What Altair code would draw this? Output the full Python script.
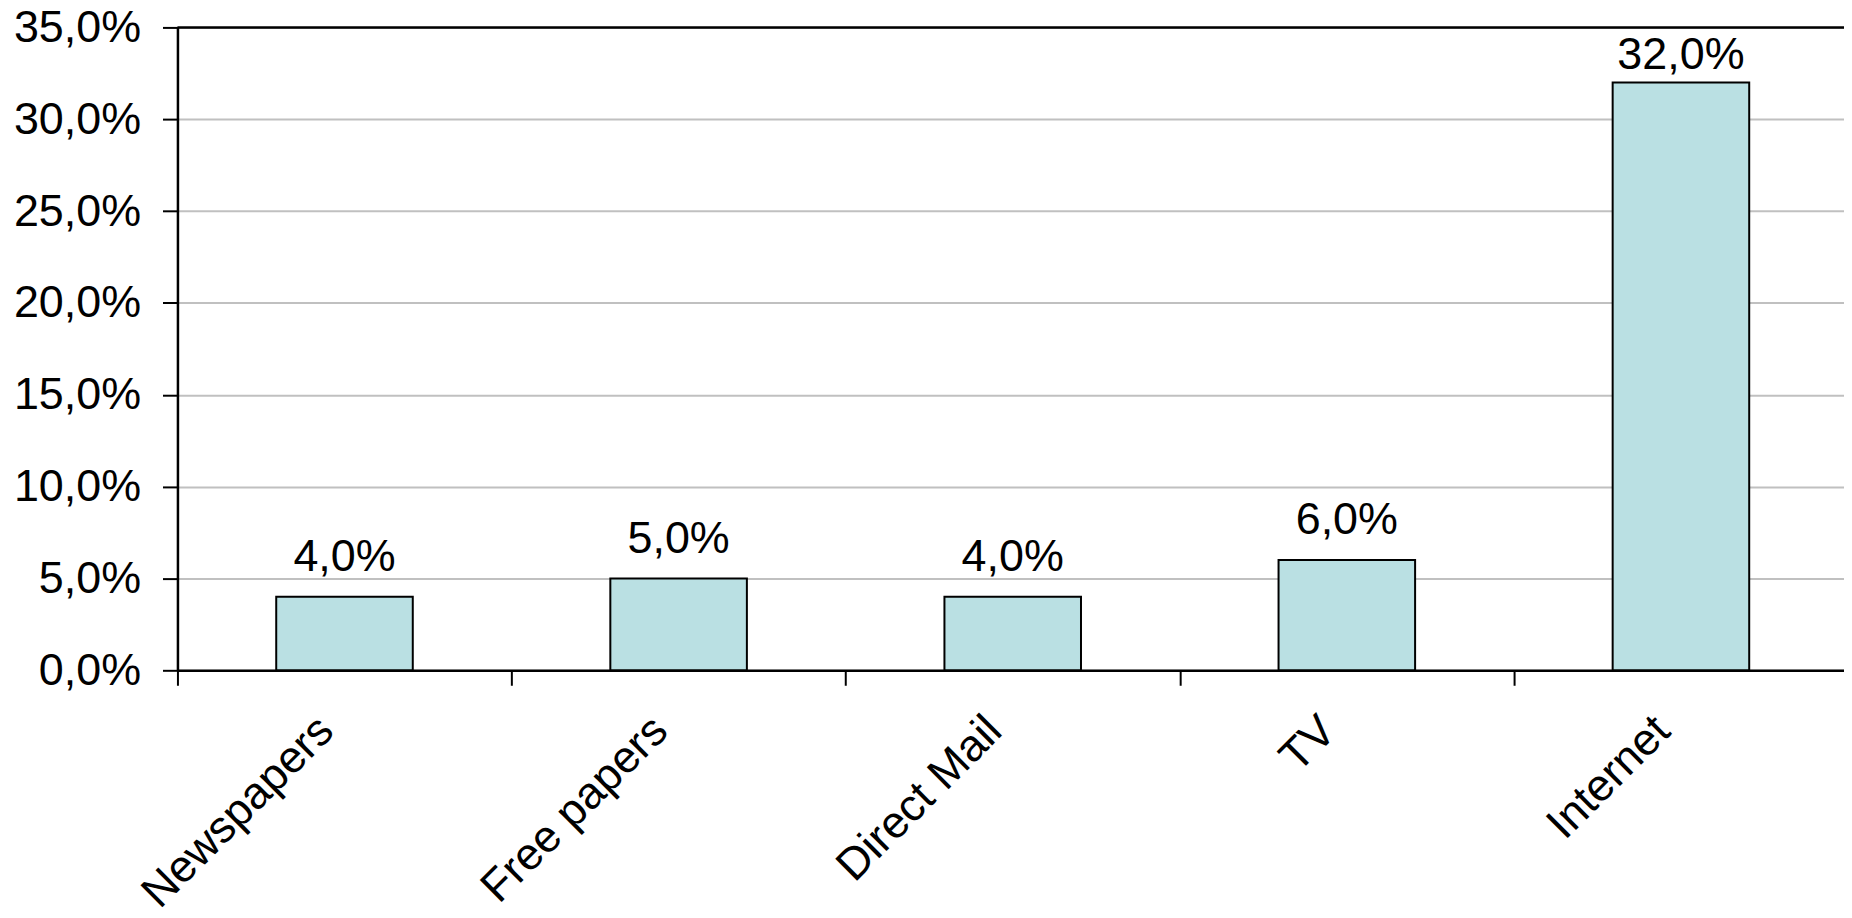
import altair as alt
import pandas as pd

categories = ["Newspapers", "Free papers", "Direct Mail", "TV", "Internet"]
values = [0.04, 0.05, 0.04, 0.06, 0.32]
y_ticks = [0, 0.05, 0.10, 0.15, 0.20, 0.25, 0.30, 0.35]

df = pd.DataFrame({"cat": categories, "val": values})

FONT = "Liberation Sans"
FS = 45

x_scale = alt.Scale(paddingInner=0, paddingOuter=0, range=[0, 1676])
x_enc = alt.X("cat:N", sort=categories, title=None, scale=x_scale,
              axis=alt.Axis(labelAngle=-45, labelAlign="right", labelBaseline="middle",
                            labelFont=FONT, labelFontSize=FS, labelColor="black",
                            labelPadding=38, labelOffset=-19, labelLimit=0,
                            tickBand="extent", tickSize=15,
                            tickColor="black", tickWidth=2, domainColor="black",
                            domainWidth=2.5, grid=False))
y_scale = alt.Scale(domain=[0, 0.35], nice=False)

bars = alt.Chart(df).mark_bar(size=137, color="#BAE0E3", stroke="black",
                              strokeWidth=2).encode(
    x=x_enc,
    y=alt.Y("val:Q", scale=y_scale, title=None,
            axis=alt.Axis(values=y_ticks,
                          labelExpr="replace(format(datum.value, '.1%'), '.', ',')",
                          labelFont=FONT, labelFontSize=FS, labelColor="black",
                          labelPadding=22, tickSize=15, tickColor="black", tickWidth=2,
                          domainColor="black", domainWidth=2.5,
                          grid=True, gridColor="#C0C0C0", gridWidth=2))
)

labels = alt.Chart(df).transform_calculate(
    lab="replace(format(datum.val, '.1%'), '.', ',')",
    pos="min(datum.val + 0.0141, 0.3272)"
).mark_text(font=FONT, fontSize=FS, color="black", baseline="alphabetic").encode(
    x=alt.X("cat:N", sort=categories, scale=x_scale),
    y=alt.Y("pos:Q", scale=y_scale),
    text="lab:N"
)

top = alt.Chart(pd.DataFrame({"y": [0.35]})).mark_rule(color="black", strokeWidth=2.5).encode(
    y=alt.Y("y:Q", scale=y_scale)
)

chart = (bars + labels + top).properties(
    width=1672, height=645,
    autosize=alt.AutoSizeParams(type="none"),
    padding={"left": 170, "top": 18, "right": 0, "bottom": 240}
).configure_view(stroke=None).configure(background="white")

chart.save("out.html", embed_options={"renderer": "svg", "actions": False})
